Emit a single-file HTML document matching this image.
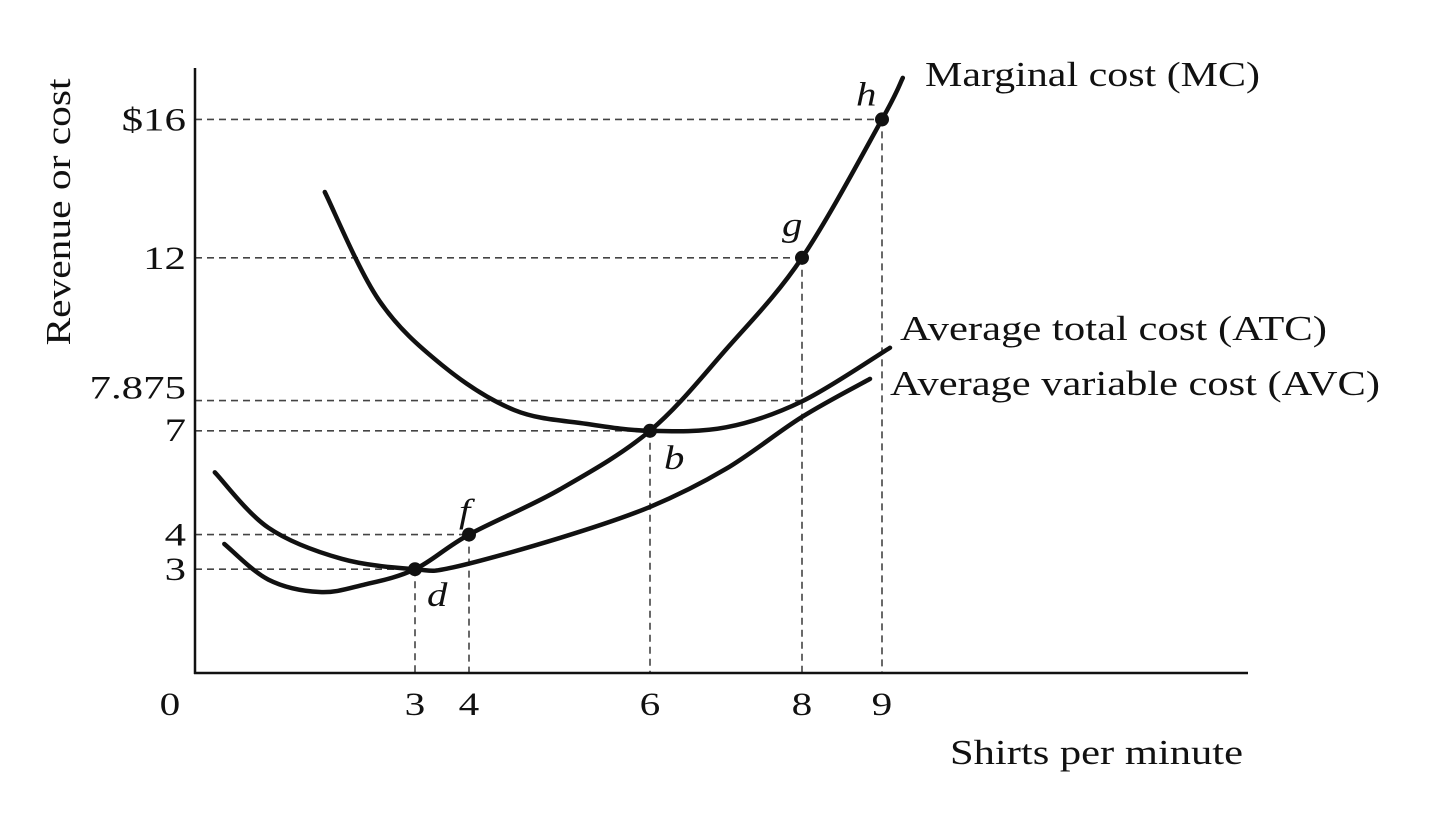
<!DOCTYPE html>
<html><head><meta charset="utf-8"><style>
html,body{margin:0;padding:0;background:#fff;}
svg{display:block;}
text{font-family:"Liberation Serif",serif;fill:#111;}
</style></head><body>
<svg id="chart" width="1440" height="829" viewBox="0 0 1440 829">
<g id="grid"></g>
<g id="curves"></g>
<g id="axes"></g>
<g id="labels"></g>
</svg>
<script>
const xTicks=[3,4,6,8,9];
const yTicks=[3,4,7,7.875,12,16];
const yTickLabels=["3","4","7","7.875","12","$16"];
const mcX=[0.4,1.0,1.7,2.3,3,4,5,6,7,8,9,9.26];
const mcY=[3.73,2.7,2.34,2.55,3,4,5.3,7,9.35,12,16,17.2];
const avcX=[0.27,1,2,3,3.7,5,6,7,8,8.85];
const avcY=[5.8,4.2,3.3,3.0,3.05,3.9,4.8,5.9,7.4,8.5];
const atcX=[1.77,2.5,3.5,4.5,5.3,6,7,8,9.1];
const atcY=[13.9,10.8,8.9,7.6,7.2,7,7.1,7.85,9.4];
const pointNames=["d","f","b","g","h"];
const pointX=[3,4,6,8,9];
const pointY=[3,4,7,12,16];

const NS="http://www.w3.org/2000/svg";
const xk=[0,3,4,6,8,9,12],xp=[195,415,469,650,802,882,1122];
function sx(v){for(let i=0;i<xk.length-1;i++){if(v<=xk[i+1]||i===xk.length-2){const t=(v-xk[i])/(xk[i+1]-xk[i]);return xp[i]+t*(xp[i+1]-xp[i]);}}}
function sy(v){return 673-34.6*v;}
function el(tag,attrs,parent){const e=document.createElementNS(NS,tag);for(const k in attrs)e.setAttribute(k,attrs[k]);parent.appendChild(e);return e;}
function stretch(t,f){const w=t.getComputedTextLength();t.setAttribute('textLength',(w*f).toFixed(1));t.setAttribute('lengthAdjust','spacingAndGlyphs');}
const grid=document.getElementById('grid'),curves=document.getElementById('curves'),axes=document.getElementById('axes'),labels=document.getElementById('labels');
const dash={stroke:"#444","stroke-width":1.6,"stroke-dasharray":"7 5",fill:"none"};

const hEnds=[3,4,6,8,8,9];
yTicks.forEach((v,i)=>{
  const l=el('line',Object.assign({x1:195,y1:sy(v),x2:sx(hEnds[i]),y2:sy(v)},dash),grid);
  
  
});
const vTops=[3,4,7,12,16];
xTicks.forEach((v,i)=>{
  const l=el('line',Object.assign({x1:sx(v),y1:sy(vTops[i]),x2:sx(v),y2:673},dash),grid);
  
  
});

function smooth(xs,ys){
  const p=xs.map((x,i)=>[sx(x),sy(ys[i])]);
  let d="M"+p[0][0]+","+p[0][1];
  for(let i=0;i<p.length-1;i++){
    const p0=p[i-1]||p[i],p1=p[i],p2=p[i+1],p3=p[i+2]||p2;
    const c1=[p1[0]+(p2[0]-p0[0])/6,p1[1]+(p2[1]-p0[1])/6];
    const c2=[p2[0]-(p3[0]-p1[0])/6,p2[1]-(p3[1]-p1[1])/6];
    d+=" C"+c1+" "+c2+" "+p2;
  }
  return d;
}
const st={fill:"none",stroke:"#111","stroke-width":4.5,"stroke-linecap":"round"};
let c=el('path',Object.assign({d:smooth(mcX,mcY)},st),curves);


c=el('path',Object.assign({d:smooth(avcX,avcY)},st),curves);


c=el('path',Object.assign({d:smooth(atcX,atcY)},st),curves);



const lblOff=[[12,37],[-10,-12],[14,38],[-20,-22],[-26,-14]];
pointX.forEach((x,i)=>{
  const d=el('circle',{cx:sx(x),cy:sy(pointY[i]),r:7,fill:"#111"},curves);
  
  
  const t=el('text',{x:sx(x)+lblOff[i][0],y:sy(pointY[i])+lblOff[i][1],"font-size":34,"font-style":"italic"},labels);
  t.textContent=pointNames[i];
  
  
  stretch(t,1.2);
});

let a=el('line',{x1:195,y1:68,x2:195,y2:674,stroke:"#111","stroke-width":2.5},axes);


a=el('line',{x1:194,y1:673,x2:1248,y2:673,stroke:"#111","stroke-width":2.5},axes);



yTicks.forEach((v,i)=>{
  const t=el('text',{x:186,y:sy(v)+(v===7.875?-2:(v===7?10:11)),"font-size":33,"text-anchor":"end"},labels);
  t.textContent=yTickLabels[i];
  
  
  stretch(t,1.3);
});
xTicks.forEach(v=>{
  const t=el('text',{x:sx(v),y:715,"font-size":33,"text-anchor":"middle"},labels);
  t.textContent=String(v);
  
  
  stretch(t,1.25);
});
let t=el('text',{x:170,y:715,"font-size":33,"text-anchor":"middle"},labels);
t.textContent="0";


stretch(t,1.25);
t=el('text',{x:950,y:764,"font-size":35},labels);
t.textContent="Shirts per minute";


t.setAttribute('textLength','293');
t.setAttribute('lengthAdjust','spacingAndGlyphs');
t=el('text',{x:0,y:0,"font-size":35,"text-anchor":"middle",transform:"translate(70,212) rotate(-90)"},labels);
t.textContent="Revenue or cost";


t.setAttribute('textLength','267');
t.setAttribute('lengthAdjust','spacingAndGlyphs');
t=el('text',{x:925,y:86,"font-size":35},labels);
t.textContent="Marginal cost (MC)";


t.setAttribute('textLength','335');
t.setAttribute('lengthAdjust','spacingAndGlyphs');
t=el('text',{x:900,y:340,"font-size":35},labels);
t.textContent="Average total cost (ATC)";


t.setAttribute('textLength','427');
t.setAttribute('lengthAdjust','spacingAndGlyphs');
t=el('text',{x:890,y:395,"font-size":35},labels);
t.textContent="Average variable cost (AVC)";


t.setAttribute('textLength','490');
t.setAttribute('lengthAdjust','spacingAndGlyphs');
</script>
</body></html>
